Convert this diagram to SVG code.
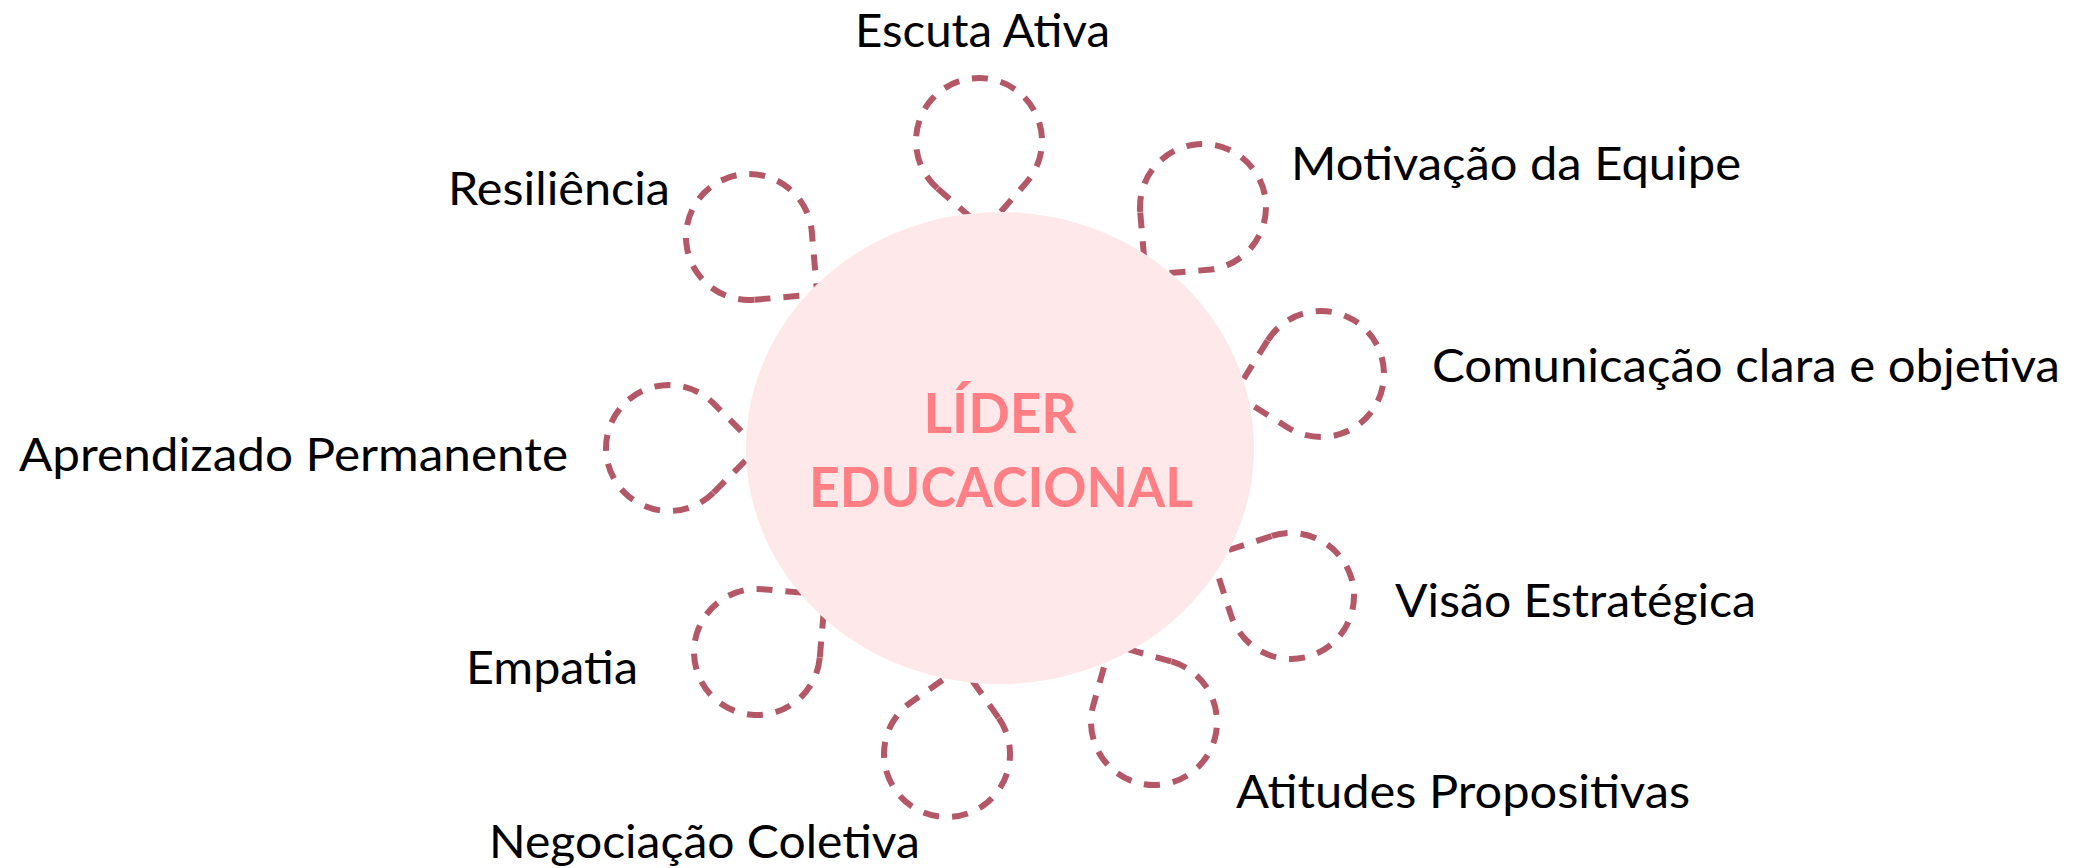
<svg xmlns="http://www.w3.org/2000/svg" width="2079" height="868" viewBox="0 0 2079 868">
  <style>
    .drop { fill: none; stroke: #B45767; stroke-width: 6; stroke-dasharray: 16 13; stroke-linecap: butt; }
    .lbl { font-family: Lato, "Open Sans", "Liberation Sans", sans-serif; font-size: 46px; fill: #000000; }
    .ctr { font-family: Lato, "Open Sans", "Liberation Sans", sans-serif; font-size: 56px; font-weight: bold; fill: #FF7F85; text-anchor: middle; }
  </style>
  <defs>
    <path id="tear" d="M 44.55 44.55 L 89.1 0 L 44.55 -44.55 A 63 63 0 1 0 44.55 44.55 Z"/>
  </defs>
  <rect width="2079" height="868" fill="#FFFFFF"/>
  <g id="connectors"/>
  <g id="node-escuta">
    <use href="#tear" class="drop" transform="translate(979,141) rotate(86.1)"/>
    <text class="lbl" x="855" y="47" textLength="255" lengthAdjust="spacingAndGlyphs">Escuta Ativa</text>
  </g>
  <g id="node-motivacao">
    <use href="#tear" class="drop" transform="translate(1203,207) rotate(130.1)"/>
    <text class="lbl" x="1291" y="180" textLength="450" lengthAdjust="spacingAndGlyphs">Motivação da Equipe</text>
  </g>
  <g id="node-comunicacao">
    <use href="#tear" class="drop" transform="translate(1321,374) rotate(167)"/>
    <text class="lbl" x="1432" y="382" textLength="628" lengthAdjust="spacingAndGlyphs">Comunicação clara e objetiva</text>
  </g>
  <g id="node-visao">
    <use href="#tear" class="drop" transform="translate(1291,596) rotate(-153)"/>
    <text class="lbl" x="1395" y="617" textLength="361" lengthAdjust="spacingAndGlyphs">Visão Estratégica</text>
  </g>
  <g id="node-atitudes">
    <use href="#tear" class="drop" transform="translate(1154,722) rotate(-119.3)"/>
    <text class="lbl" x="1236" y="808" textLength="454" lengthAdjust="spacingAndGlyphs">Atitudes Propositivas</text>
  </g>
  <g id="node-negociacao">
    <use href="#tear" class="drop" transform="translate(947,754) rotate(-80.2)"/>
    <text class="lbl" x="489" y="858" textLength="431" lengthAdjust="spacingAndGlyphs">Negociação Coletiva</text>
  </g>
  <g id="node-empatia">
    <use href="#tear" class="drop" transform="translate(757,652) rotate(-40)"/>
    <text class="lbl" x="466" y="684" textLength="172" lengthAdjust="spacingAndGlyphs">Empatia</text>
  </g>
  <g id="node-aprendizado">
    <use href="#tear" class="drop" transform="translate(669,448) rotate(0)"/>
    <text class="lbl" x="19" y="471" textLength="549" lengthAdjust="spacingAndGlyphs">Aprendizado Permanente</text>
  </g>
  <g id="node-resiliencia">
    <use href="#tear" class="drop" transform="translate(749,237) rotate(40)"/>
    <text class="lbl" x="448" y="205" textLength="222" lengthAdjust="spacingAndGlyphs">Resiliência</text>
  </g>
  <g id="node-lider">
    <ellipse cx="1000" cy="448" rx="254" ry="236" fill="#FFE8EA"/>
    <text class="ctr" x="1000" y="433" textLength="153" lengthAdjust="spacingAndGlyphs">LÍDER</text>
    <text class="ctr" x="1001" y="507" textLength="384" lengthAdjust="spacingAndGlyphs">EDUCACIONAL</text>
  </g>
</svg>
